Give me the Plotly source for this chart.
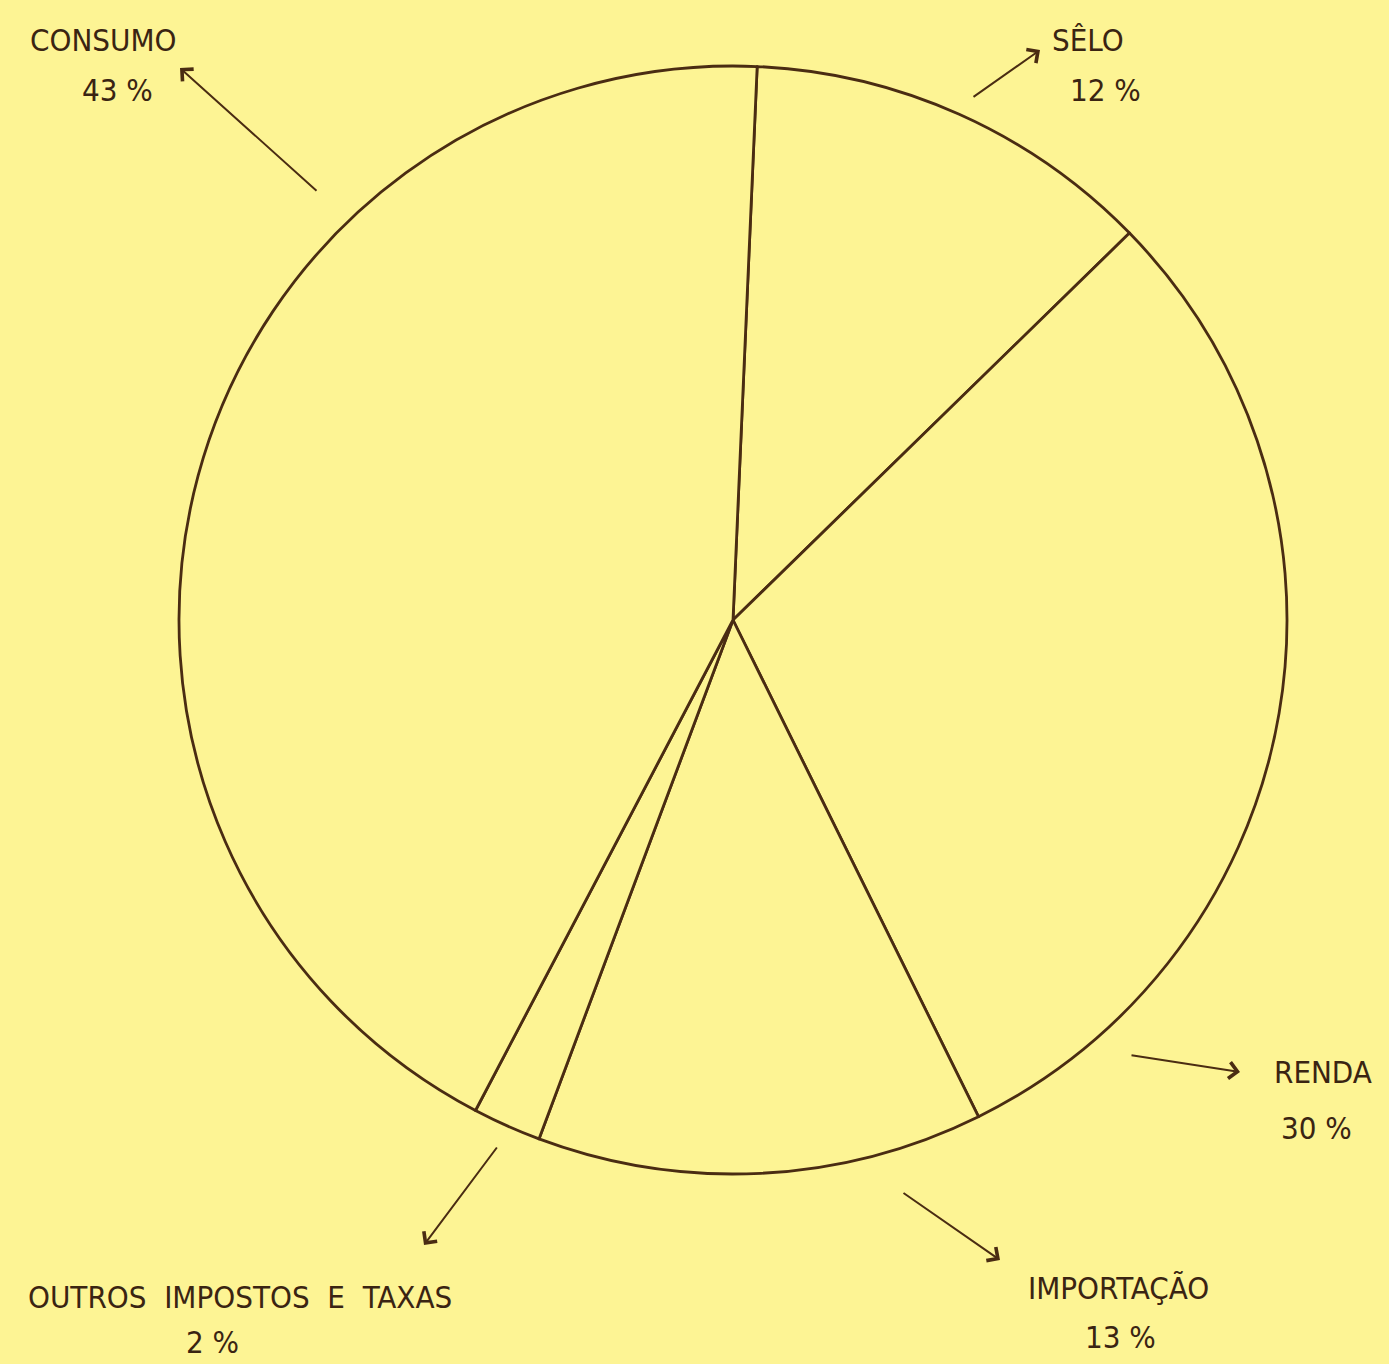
import plotly.graph_objects as go

W, H = 1389, 1364

categories = ["SÊLO", "RENDA", "IMPORTAÇÃO", "OUTROS IMPOSTOS E TAXAS", "CONSUMO"]
values = [12, 30, 13, 2, 43]
pct_labels = ["12 %", "30 %", "13 %", "2 %", "43 %"]

bg = "#fdf494"
ink = "#4a2c12"

cx, cy, r = 733, 620, 554
fig = go.Figure(go.Pie(
    labels=categories, values=values, sort=False, direction="clockwise",
    rotation=2.5, textinfo="none", hoverinfo="label+percent",
    marker=dict(colors=[bg] * len(values), line=dict(color=ink, width=2.8)),
    domain=dict(x=[(cx - r) / W, (cx + r) / W], y=[1 - (cy + r) / H, 1 - (cy - r) / H]),
    showlegend=False,
))

def px(x, y):
    return x / W, 1 - y / H

# label positions (name, pct) and arrows (tail -> head) in pixel space
label_pos = {
    "SÊLO": ((1088, 40), (1105, 90)),
    "RENDA": ((1323, 1072), (1316, 1128)),
    "IMPORTAÇÃO": ((1118, 1288), (1120, 1337)),
    "OUTROS IMPOSTOS E TAXAS": ((240, 1297), (213, 1342)),
    "CONSUMO": ((103, 40), (117, 90)),
}
arrows = {
    "SÊLO": ((972, 98), (1040, 50)),
    "RENDA": ((1130, 1055), (1240, 1072)),
    "IMPORTAÇÃO": ((902, 1192), (1000, 1260)),
    "OUTROS IMPOSTOS E TAXAS": ((498, 1146), (424, 1245)),
    "CONSUMO": ((318, 192), (180, 68)),
}

font = dict(family="DejaVu Sans Condensed, DejaVu Sans", size=31, color="#3a2412")
anns = []
for name, pct in zip(categories, pct_labels):
    (nx, ny), (qx, qy) = label_pos[name]
    shown = name.replace(" ", "\u00a0\u00a0")
    x, y = px(nx, ny)
    anns.append(dict(x=x, y=y, xref="paper", yref="paper", text=shown, showarrow=False,
                     xanchor="center", yanchor="middle", font=font))
    x, y = px(qx, qy)
    anns.append(dict(x=x, y=y, xref="paper", yref="paper", text=pct, showarrow=False,
                     xanchor="center", yanchor="middle", font=font))
    (tx, ty), (hx, hy) = arrows[name]
    x, y = px(hx, hy)
    anns.append(dict(x=x, y=y, xref="paper", yref="paper", text="", showarrow=True,
                     ax=tx - hx, ay=ty - hy, arrowhead=4, arrowsize=1.6, arrowwidth=2,
                     arrowcolor=ink))

fig.update_layout(
    width=W, height=H, margin=dict(l=0, r=0, t=0, b=0),
    paper_bgcolor=bg, plot_bgcolor=bg, annotations=anns,
)
fig.write_html("out.html", config={"displayModeBar": False},
               post_script="document.body.style.margin='0';document.body.style.background='%s';" % bg)
